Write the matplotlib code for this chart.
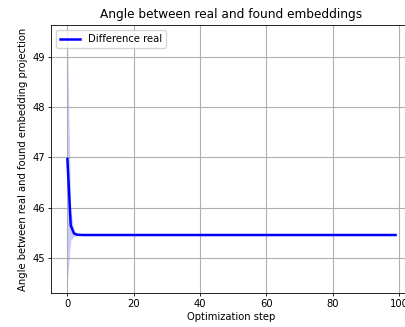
import matplotlib
matplotlib.use("Agg")
import matplotlib.pyplot as plt
import numpy as np

steps = list(range(100))
mean_head = [46.97, 45.65, 45.49, 45.465, 45.462]
mean_tail = [45.46] * 95
mean_vals = np.array(mean_head + mean_tail)
std_head = [2.42, 0.30, 0.06, 0.02, 0.01]
std_tail = [0.005] * 95
std_vals = np.array(std_head + std_tail)

title = "Angle between real and found embeddings"
xlabel = "Optimization step"
ylabel = "Angle between real and found embedding projection"
legend_label = "Difference real"

fig = plt.figure(figsize=(4.05, 3.27), dpi=100)
ax = fig.add_axes([51/405, (327-293)/327, (412-51)/405, (293-25)/327])
ax.plot(steps, mean_vals, color="blue", lw=1.8, label=legend_label)
ax.fill_between(steps, mean_vals - std_vals, mean_vals + std_vals, color="blue", alpha=0.2, lw=0)
ax.grid(True, color="#b0b0b0", lw=0.8)
ax.set_axisbelow(True)
ax.set_title(title, fontsize=8.7, pad=5)
ax.set_xlabel(xlabel, fontsize=7.2, labelpad=2)
ax.set_ylabel(ylabel, fontsize=7.2, labelpad=3)
ax.tick_params(labelsize=7.2, length=2.5, width=0.6, pad=2)
for s in ax.spines.values():
    s.set_linewidth(0.6)
ax.set_xticks([0, 20, 40, 60, 80, 100])
ax.legend(loc="upper left", fontsize=7.2, handlelength=2)
fig.savefig("out.png", dpi=100)
